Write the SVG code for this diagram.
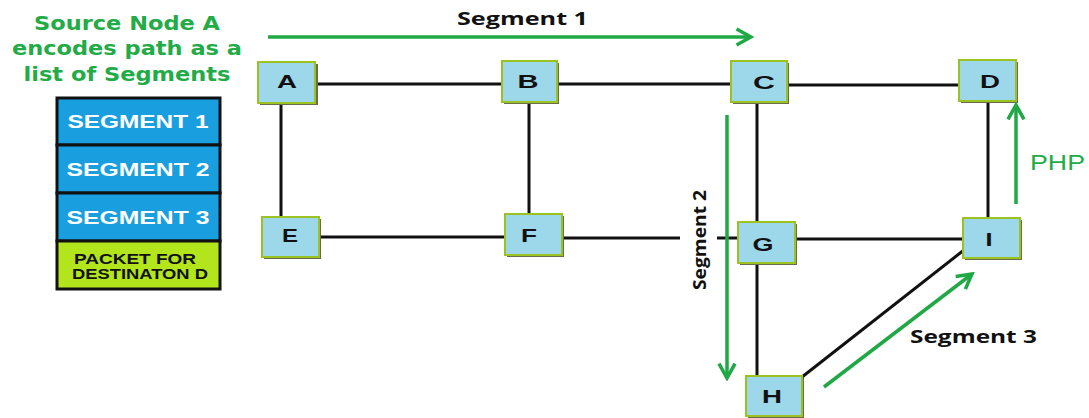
<svg xmlns="http://www.w3.org/2000/svg" width="1089" height="418" viewBox="0 0 1089 418">
  <style>
    .node rect.box { fill: #9dd7ea; stroke: #9cc21f; stroke-width: 2; }
    .node rect.shade { fill: #6b6b50; }
    .node text { font-family: "Liberation Sans", Arial, sans-serif; font-weight: bold; font-size: 19px; fill: #111; text-anchor: middle; }
    .link { stroke: #111; stroke-width: 3; fill: none; }
    .flow { stroke: #1fa845; stroke-width: 3.5; fill: none; }
    .title { font-family: "DejaVu Sans", "Liberation Sans", sans-serif; font-weight: bold; font-size: 20px; fill: #22ab47; text-anchor: middle; }
    .seglabel { font-family: "Open Sans", "Liberation Sans", sans-serif; font-weight: bold; font-size: 18px; fill: #111; }
    .stack rect { stroke: #111; stroke-width: 3; }
    .stack text.seg { font-family: "Liberation Sans", Arial, sans-serif; font-weight: bold; font-size: 19px; fill: #fff; text-anchor: middle; }
    .stack text.pkt { font-family: "Liberation Sans", Arial, sans-serif; font-weight: bold; font-size: 15px; fill: #111; text-anchor: middle; }
  </style>
  <defs>
    <marker id="chev" viewBox="0 0 12 12" refX="10" refY="6" markerWidth="5.5" markerHeight="5.5" orient="auto" markerUnits="strokeWidth">
      <path d="M1,1 L10,6 L1,11" fill="none" stroke="#1fa845" stroke-width="2.2"/>
    </marker>
  </defs>
  <rect width="1089" height="418" fill="#fff"/>

  <!-- heading -->
  <g id="heading">
    <text class="title" x="127" y="30" textLength="186" lengthAdjust="spacingAndGlyphs">Source Node A</text>
    <text class="title" x="127" y="55" textLength="230" lengthAdjust="spacingAndGlyphs">encodes path as a</text>
    <text class="title" x="127" y="81" textLength="207" lengthAdjust="spacingAndGlyphs">list of Segments</text>
  </g>

  <!-- segment list carried in the packet header -->
  <g id="segment-stack" class="stack">
    <rect x="57" y="98" width="163" height="47" fill="#199fe0"/>
    <rect x="57" y="145" width="163" height="48" fill="#199fe0"/>
    <rect x="57" y="193" width="163" height="48" fill="#199fe0"/>
    <rect x="57" y="241" width="163" height="48" fill="#b3e51c"/>
    <text class="seg" x="138" y="128" textLength="141" lengthAdjust="spacingAndGlyphs">SEGMENT 1</text>
    <text class="seg" x="138" y="176" textLength="143" lengthAdjust="spacingAndGlyphs">SEGMENT 2</text>
    <text class="seg" x="138" y="224" textLength="143" lengthAdjust="spacingAndGlyphs">SEGMENT 3</text>
    <text class="pkt" x="135" y="264" textLength="122" lengthAdjust="spacingAndGlyphs">PACKET FOR</text>
    <text class="pkt" x="140" y="279" textLength="136" lengthAdjust="spacingAndGlyphs">DESTINATON D</text>
  </g>

  <!-- links between routers -->
  <g id="links">
    <line class="link" x1="316" y1="84" x2="503" y2="84"/>
    <line class="link" x1="557" y1="84" x2="732" y2="84"/>
    <line class="link" x1="787" y1="85" x2="960" y2="85"/>
    <line class="link" x1="281" y1="103" x2="281" y2="217"/>
    <line class="link" x1="529" y1="102" x2="529" y2="214"/>
    <line class="link" x1="757" y1="102" x2="757" y2="222"/>
    <line class="link" x1="988" y1="101" x2="988" y2="218"/>
    <line class="link" x1="319" y1="237" x2="505" y2="237"/>
    <line class="link" x1="562" y1="238" x2="680" y2="238"/>
    <line class="link" x1="717" y1="238" x2="738" y2="238"/>
    <line class="link" x1="795" y1="239" x2="963" y2="239"/>
    <line class="link" x1="757" y1="263" x2="757" y2="376"/>
    <line class="link" x1="802" y1="377" x2="964" y2="250"/>
  </g>

  <!-- routers -->
  <g id="node-A" class="node"><rect class="shade" x="260" y="64" width="58" height="41"/><rect class="box" x="258" y="62" width="57" height="41"/><text x="287" y="88" textLength="20" lengthAdjust="spacingAndGlyphs">A</text></g>
  <g id="node-B" class="node"><rect class="shade" x="504" y="63" width="55" height="41"/><rect class="box" x="502" y="61" width="55" height="41"/><text x="528" y="88" textLength="21" lengthAdjust="spacingAndGlyphs">B</text></g>
  <g id="node-C" class="node"><rect class="shade" x="733" y="63" width="56" height="41"/><rect class="box" x="731" y="61" width="56" height="41"/><text x="764" y="89" textLength="22" lengthAdjust="spacingAndGlyphs">C</text></g>
  <g id="node-D" class="node"><rect class="shade" x="961" y="62" width="57" height="41"/><rect class="box" x="959" y="60" width="57" height="41"/><text x="990" y="88" textLength="20" lengthAdjust="spacingAndGlyphs">D</text></g>
  <g id="node-E" class="node"><rect class="shade" x="264" y="219" width="57" height="40"/><rect class="box" x="262" y="217" width="57" height="40"/><text x="290" y="242" textLength="16" lengthAdjust="spacingAndGlyphs">E</text></g>
  <g id="node-F" class="node"><rect class="shade" x="507" y="216" width="57" height="41"/><rect class="box" x="505" y="214" width="57" height="41"/><text x="529" y="242" textLength="16" lengthAdjust="spacingAndGlyphs">F</text></g>
  <g id="node-G" class="node"><rect class="shade" x="740" y="224" width="57" height="41"/><rect class="box" x="738" y="222" width="57" height="41"/><text x="763" y="251" textLength="21" lengthAdjust="spacingAndGlyphs">G</text></g>
  <g id="node-H" class="node"><rect class="shade" x="748" y="378" width="56" height="40"/><rect class="box" x="746" y="376" width="56" height="40"/><text x="772" y="403" textLength="20" lengthAdjust="spacingAndGlyphs">H</text></g>
  <g id="node-I" class="node"><rect class="shade" x="965" y="220" width="57" height="40"/><rect class="box" x="963" y="218" width="57" height="40"/><text x="989" y="246" textLength="7" lengthAdjust="spacingAndGlyphs">I</text></g>

  <!-- forwarding path arrows -->
  <g id="path-arrows">
    <line class="flow" x1="268" y1="37" x2="751" y2="37" marker-end="url(#chev)"/>
    <line class="flow" x1="727" y1="115" x2="727" y2="378" marker-end="url(#chev)"/>
    <line class="flow" x1="824" y1="387" x2="972" y2="274" marker-end="url(#chev)"/>
    <line class="flow" x1="1016" y1="204" x2="1016" y2="105" marker-end="url(#chev)"/>
  </g>

  <!-- path labels -->
  <g id="labels">
    <text class="seglabel" x="457" y="25" textLength="131" lengthAdjust="spacingAndGlyphs">Segment 1</text>
    <text class="seglabel" transform="translate(706,290) rotate(-90)" textLength="100" lengthAdjust="spacingAndGlyphs">Segment 2</text>
    <text class="seglabel" x="910" y="343" textLength="127" lengthAdjust="spacingAndGlyphs">Segment 3</text>
    <text x="1030" y="170" font-family="Liberation Sans, Arial, sans-serif" font-size="22" fill="#22ab47" textLength="55" lengthAdjust="spacingAndGlyphs">PHP</text>
  </g>
</svg>
